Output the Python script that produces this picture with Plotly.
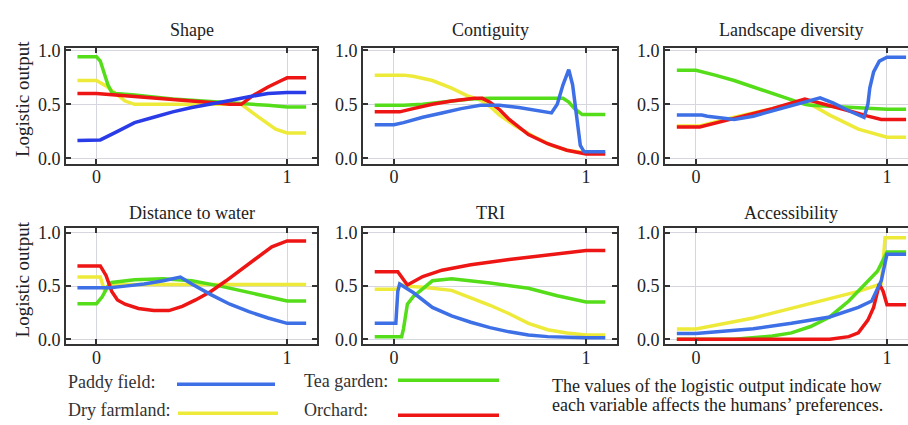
import plotly.graph_objects as go

# ---------------- data ----------------
PANEL_TITLES = ["Shape", "Contiguity", "Landscape diversity",
                "Distance to water", "TRI", "Accessibility"]
SERIES_NAMES = ["Paddy field", "Tea garden", "Dry farmland", "Orchard"]
Y_TICK_VALS = [0, 0.5, 1]
Y_TICK_TEXT = ["0.0", "0.5", "1.0"]
X_TICK_VALS = [0, 1]
X_TICK_TEXT = ["0", "1"]

# Shape
shape_paddy_x = [-0.1, 0.02, 0.1, 0.2, 0.3, 0.4, 0.5, 0.6, 0.7, 0.8, 0.9, 1.0, 1.1]
shape_paddy_y = [0.165, 0.17, 0.24, 0.33, 0.38, 0.43, 0.47, 0.5, 0.535, 0.57, 0.6, 0.61, 0.61]
shape_tea_x = [-0.1, 0.0, 0.02, 0.04, 0.06, 0.08, 0.1, 0.2, 0.4, 0.6, 0.75, 0.85, 0.9, 1.0, 1.1]
shape_tea_y = [0.94, 0.94, 0.9, 0.8, 0.68, 0.61, 0.6, 0.585, 0.55, 0.525, 0.51, 0.5, 0.49, 0.475, 0.475]
shape_dry_x = [-0.1, 0.0, 0.05, 0.1, 0.15, 0.2, 0.4, 0.6, 0.76, 0.82, 0.88, 0.94, 1.0, 1.1]
shape_dry_y = [0.72, 0.72, 0.67, 0.6, 0.53, 0.5, 0.5, 0.5, 0.5, 0.42, 0.34, 0.27, 0.235, 0.235]
shape_orch_x = [-0.1, 0.0, 0.1, 0.3, 0.5, 0.65, 0.7, 0.76, 0.82, 0.9, 0.97, 1.0, 1.1]
shape_orch_y = [0.6, 0.6, 0.585, 0.56, 0.53, 0.51, 0.5, 0.5, 0.58, 0.66, 0.72, 0.745, 0.745]

# Contiguity
contig_paddy_x = [-0.1, 0.0, 0.05, 0.15, 0.25, 0.35, 0.45, 0.55, 0.65, 0.75, 0.82, 0.85, 0.88, 0.91, 0.93, 0.95, 0.97, 0.99, 1.1]
contig_paddy_y = [0.31, 0.31, 0.33, 0.38, 0.42, 0.46, 0.49, 0.49, 0.47, 0.44, 0.42, 0.5, 0.68, 0.82, 0.68, 0.4, 0.12, 0.06, 0.06]
contig_tea_x = [-0.1, 0.05, 0.15, 0.25, 0.4, 0.5, 0.7, 0.88, 0.91, 0.94, 0.98, 1.1]
contig_tea_y = [0.49, 0.49, 0.5, 0.52, 0.55, 0.555, 0.555, 0.555, 0.52, 0.46, 0.405, 0.405]
contig_dry_x = [-0.1, 0.05, 0.1, 0.2, 0.3, 0.38, 0.45, 0.5, 0.55, 0.63, 0.73, 0.82, 0.9, 1.0, 1.1]
contig_dry_y = [0.77, 0.77, 0.76, 0.72, 0.65, 0.58, 0.54, 0.48, 0.4, 0.3, 0.2, 0.12, 0.075, 0.05, 0.05]
contig_orch_x = [-0.1, 0.03, 0.1, 0.2, 0.3, 0.42, 0.46, 0.5, 0.55, 0.6, 0.7, 0.8, 0.9, 1.0, 1.1]
contig_orch_y = [0.43, 0.43, 0.46, 0.5, 0.53, 0.555, 0.555, 0.52, 0.45, 0.36, 0.22, 0.135, 0.075, 0.04, 0.04]

# Landscape diversity
land_paddy_x = [-0.1, 0.03, 0.06, 0.12, 0.2, 0.3, 0.4, 0.5, 0.58, 0.65, 0.72, 0.8, 0.88, 0.9, 0.91, 0.93, 0.96, 1.0, 1.1]
land_paddy_y = [0.4, 0.4, 0.39, 0.38, 0.36, 0.39, 0.44, 0.49, 0.53, 0.56, 0.51, 0.44, 0.38, 0.5, 0.65, 0.8, 0.9, 0.935, 0.935]
land_tea_x = [-0.1, 0.0, 0.1, 0.2, 0.3, 0.4, 0.5, 0.57, 0.6, 0.7, 0.85, 1.0, 1.1]
land_tea_y = [0.815, 0.815, 0.77, 0.72, 0.66, 0.6, 0.54, 0.5, 0.49, 0.48, 0.47, 0.455, 0.455]
land_dry_x = [-0.1, 0.02, 0.2, 0.4, 0.55, 0.6, 0.7, 0.85, 1.0, 1.1]
land_dry_y = [0.3, 0.3, 0.38, 0.46, 0.53, 0.5, 0.4, 0.27, 0.195, 0.195]
land_orch_x = [-0.1, 0.02, 0.2, 0.4, 0.57, 0.7, 0.8, 0.9, 0.97, 1.1]
land_orch_y = [0.29, 0.29, 0.37, 0.46, 0.548, 0.49, 0.44, 0.39, 0.36, 0.36]

# Distance to water
dist_paddy_x = [-0.1, 0.07, 0.15, 0.25, 0.35, 0.44, 0.5, 0.6, 0.7, 0.8, 0.9, 1.0, 1.1]
dist_paddy_y = [0.485, 0.485, 0.5, 0.52, 0.55, 0.585, 0.52, 0.42, 0.33, 0.26, 0.2, 0.15, 0.15]
dist_tea_x = [-0.1, 0.0, 0.03, 0.06, 0.08, 0.2, 0.35, 0.5, 0.65, 0.8, 0.9, 1.0, 1.1]
dist_tea_y = [0.335, 0.335, 0.4, 0.5, 0.535, 0.56, 0.57, 0.55, 0.5, 0.44, 0.4, 0.36, 0.36]
dist_dry_x = [-0.1, 0.02, 0.04, 0.08, 0.2, 0.6, 1.0, 1.1]
dist_dry_y = [0.585, 0.585, 0.47, 0.515, 0.515, 0.515, 0.515, 0.515]
dist_orch_x = [-0.1, 0.02, 0.05, 0.08, 0.11, 0.15, 0.22, 0.3, 0.38, 0.45, 0.52, 0.6, 0.68, 0.76, 0.84, 0.92, 1.0, 1.1]
dist_orch_y = [0.69, 0.69, 0.6, 0.45, 0.37, 0.33, 0.29, 0.27, 0.27, 0.31, 0.37, 0.45, 0.55, 0.66, 0.77, 0.87, 0.925, 0.925]

# TRI
tri_paddy_x = [-0.1, 0.01, 0.02, 0.03, 0.1, 0.2, 0.3, 0.4, 0.5, 0.6, 0.7, 0.8, 1.0, 1.1]
tri_paddy_y = [0.15, 0.15, 0.45, 0.52, 0.44, 0.3, 0.22, 0.16, 0.11, 0.07, 0.04, 0.025, 0.015, 0.015]
tri_tea_x = [-0.1, 0.04, 0.05, 0.07, 0.1, 0.15, 0.2, 0.3, 0.5, 0.7, 0.85, 1.0, 1.1]
tri_tea_y = [0.025, 0.025, 0.1, 0.33, 0.4, 0.48, 0.55, 0.57, 0.53, 0.48, 0.41, 0.35, 0.35]
tri_dry_x = [-0.1, 0.02, 0.03, 0.06, 0.15, 0.3, 0.4, 0.5, 0.6, 0.7, 0.8, 0.9, 1.0, 1.1]
tri_dry_y = [0.47, 0.47, 0.52, 0.5, 0.49, 0.46, 0.39, 0.32, 0.24, 0.15, 0.09, 0.06, 0.04, 0.04]
tri_orch_x = [-0.1, 0.02, 0.07, 0.15, 0.25, 0.4, 0.6, 0.8, 1.0, 1.1]
tri_orch_y = [0.635, 0.635, 0.51, 0.59, 0.65, 0.7, 0.75, 0.79, 0.835, 0.835]

# Accessibility
acc_paddy_x = [-0.1, 0.0, 0.3, 0.5, 0.7, 0.85, 0.92, 0.97, 1.0, 1.1]
acc_paddy_y = [0.055, 0.055, 0.1, 0.15, 0.21, 0.3, 0.36, 0.55, 0.8, 0.8]
acc_tea_x = [-0.1, 0.2, 0.4, 0.5, 0.6, 0.7, 0.8, 0.9, 0.95, 1.0, 1.1]
acc_tea_y = [0.0, 0.0, 0.03, 0.06, 0.12, 0.21, 0.36, 0.55, 0.64, 0.82, 0.82]
acc_dry_x = [-0.1, 0.0, 0.3, 0.5, 0.7, 0.85, 0.97, 0.99, 1.1]
acc_dry_y = [0.097, 0.097, 0.2, 0.29, 0.38, 0.45, 0.52, 0.955, 0.955]
acc_orch_x = [-0.1, 0.7, 0.8, 0.85, 0.9, 0.93, 0.96, 0.98, 1.0, 1.1]
acc_orch_y = [0.0, 0.0, 0.025, 0.06, 0.18, 0.3, 0.52, 0.45, 0.325, 0.325]

LEGEND_NOTE = ["The values of the logistic output indicate how",
               "each variable affects the humans\u2019 preferences."]

# ---------------- styling / layout ----------------
W, H = 908, 425
SERIF = "Liberation Serif, Times New Roman, serif"
COLORS = {"Paddy field": "#3d6fe6", "Tea garden": "#55dd1a",
          "Dry farmland": "#eeea3a", "Orchard": "#ee1515"}
SHAPE_PADDY_COLOR = "#2a3ce8"
FRAME = "#333333"
GRID = "#d6d6de"
FS = 18

panels = [
    [(shape_paddy_x, shape_paddy_y), (shape_tea_x, shape_tea_y), (shape_dry_x, shape_dry_y), (shape_orch_x, shape_orch_y)],
    [(contig_paddy_x, contig_paddy_y), (contig_tea_x, contig_tea_y), (contig_dry_x, contig_dry_y), (contig_orch_x, contig_orch_y)],
    [(land_paddy_x, land_paddy_y), (land_tea_x, land_tea_y), (land_dry_x, land_dry_y), (land_orch_x, land_orch_y)],
    [(dist_paddy_x, dist_paddy_y), (dist_tea_x, dist_tea_y), (dist_dry_x, dist_dry_y), (dist_orch_x, dist_orch_y)],
    [(tri_paddy_x, tri_paddy_y), (tri_tea_x, tri_tea_y), (tri_dry_x, tri_dry_y), (tri_orch_x, tri_orch_y)],
    [(acc_paddy_x, acc_paddy_y), (acc_tea_x, acc_tea_y), (acc_dry_x, acc_dry_y), (acc_orch_x, acc_orch_y)],
]
DRAW_ORDER = [2, 1, 3, 0]

col_px = [(66, 317), (363, 617), (665, 908)]
col_range = [(-0.16, 1.157), (-0.161, 1.161), (-0.162, 1.11)]
col_title_x = [191.5, 490, 791]
row_px = [(41.5, 160.5), (227, 347)]
row_range = [(-0.049, 1.019), (-0.048, 1.046)]
row_title_y = [23, 211]

fig = go.Figure()
layout = dict(width=W, height=H, margin=dict(l=0, r=0, t=0, b=0, pad=0),
              paper_bgcolor="white", plot_bgcolor="white", showlegend=False,
              hovermode=False)

annotations = []
for i in range(6):
    r, c = divmod(i, 3)
    n = i + 1
    xa = "xaxis" if n == 1 else f"xaxis{n}"
    ya = "yaxis" if n == 1 else f"yaxis{n}"
    xref = "x" if n == 1 else f"x{n}"
    yref = "y" if n == 1 else f"y{n}"
    x0, x1 = col_px[c]
    y0, y1 = row_px[r]
    layout[xa] = dict(domain=[x0 / W, x1 / W], range=list(col_range[c]), anchor=yref,
                      tickvals=X_TICK_VALS, ticktext=X_TICK_TEXT,
                      showgrid=True, gridcolor=GRID, gridwidth=1, zeroline=False,
                      showline=True, linecolor=FRAME, linewidth=2, mirror="ticks",
                      ticks="inside", ticklen=5, tickwidth=2, tickcolor=FRAME,
                      ticklabelstandoff=-4,
                      tickfont=dict(family=SERIF, size=FS, color="#222"), fixedrange=True)
    layout[ya] = dict(domain=[1 - y1 / H, 1 - y0 / H], range=list(row_range[r]), anchor=xref,
                      tickvals=Y_TICK_VALS, ticktext=Y_TICK_TEXT,
                      showgrid=True, gridcolor=GRID, gridwidth=1, zeroline=False,
                      showline=True, linecolor=FRAME, linewidth=2,
                      mirror=("ticks" if c < 2 else False),
                      ticks="inside", ticklen=5, tickwidth=2, tickcolor=FRAME,
                      tickfont=dict(family=SERIF, size=FS, color="#222"), fixedrange=True)
    for k in DRAW_ORDER:
        xs, ys = panels[i][k]
        name = SERIES_NAMES[k]
        color = SHAPE_PADDY_COLOR if (i == 0 and k == 0) else COLORS[name]
        fig.add_trace(go.Scatter(x=xs, y=ys, mode="lines", name=name,
                                 line=dict(color=color, width=3.5),
                                 xaxis=xref, yaxis=yref))
    annotations.append(dict(text=PANEL_TITLES[i], xref="paper", yref="paper",
                            x=col_title_x[c] / W, y=1 - row_title_y[r] / H,
                            xanchor="center", yanchor="middle",
                            showarrow=False, font=dict(family=SERIF, size=FS, color="#222")))

for r in range(2):
    y0, y1 = row_px[r]
    annotations.append(dict(text="Logistic output", xref="paper", yref="paper",
                            x=22 / W, y=1 - ((y0 + y1) / 2 - 7) / H, textangle=-90,
                            xanchor="center", yanchor="middle", showarrow=False,
                            font=dict(family=SERIF, size=19, color="#222")))

legend_items = [("Paddy field", 66, 386, 177, 275, 388),
                ("Tea garden", 302, 385, 398, 499, 384),
                ("Dry farmland", 66, 415, 178, 278, 418),
                ("Orchard", 302, 415, 398, 499, 420)]
shapes = []
for name, tx, ty, lx0, lx1, ly in legend_items:
    annotations.append(dict(text=name + ":", xref="paper", yref="paper",
                            x=tx / W, y=1 - ty / H, xanchor="left", yanchor="middle",
                            showarrow=False, font=dict(family=SERIF, size=FS, color="#333")))
    shapes.append(dict(type="line", xref="paper", yref="paper",
                       x0=lx0 / W, x1=lx1 / W, y0=1 - ly / H, y1=1 - ly / H,
                       line=dict(color=COLORS[name], width=3.5)))

for j, line in enumerate(LEGEND_NOTE):
    annotations.append(dict(text=line, xref="paper", yref="paper",
                            x=550 / W, y=1 - (390 + 20 * j) / H, xanchor="left", yanchor="middle",
                            showarrow=False, font=dict(family=SERIF, size=FS, color="#222")))

layout["annotations"] = annotations
layout["shapes"] = shapes
fig.update_layout(**layout)
fig.write_html("out.html", config={"displayModeBar": False, "staticPlot": True},
               post_script="document.body.style.margin='0';document.body.style.overflow='hidden';")
